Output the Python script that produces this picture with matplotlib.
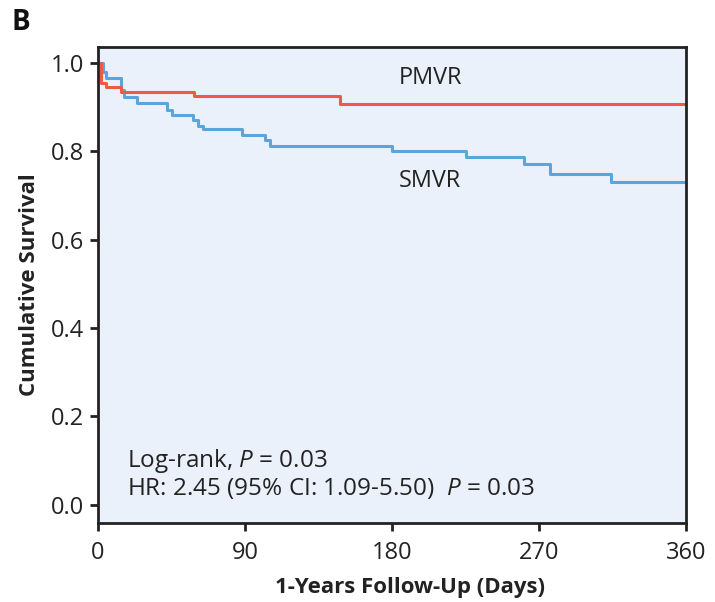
import matplotlib
matplotlib.use("Agg")
import matplotlib.pyplot as plt
from matplotlib import font_manager

# ---- data ----
pmvr_days = [0, 2, 5, 14, 59, 148, 360]
pmvr_surv = [1.0, 0.954, 0.946, 0.935, 0.925, 0.906, 0.906]
smvr_days = [0, 3, 5, 14, 16, 24, 42, 45, 58, 61, 64, 88, 102, 105, 180, 225, 261, 277, 314, 360]
smvr_surv = [1.0, 0.980, 0.965, 0.939, 0.923, 0.909, 0.894, 0.883, 0.870, 0.857, 0.850,
             0.836, 0.826, 0.812, 0.801, 0.786, 0.771, 0.748, 0.731, 0.731]
x_ticks = [0, 90, 180, 270, 360]
y_ticks = [0.0, 0.2, 0.4, 0.6, 0.8, 1.0]

available = {f.name for f in font_manager.fontManager.ttflist}
fam = None
for cand in ["Open Sans", "Noto Sans", "Roboto", "DejaVu Sans"]:
    if cand in available:
        fam = cand
        break
plt.rcParams['font.family'] = [fam, 'DejaVu Sans']
plt.rcParams['mathtext.fontset'] = 'custom'
plt.rcParams['mathtext.it'] = f'{fam}:italic'
plt.rcParams['mathtext.rm'] = fam

fig = plt.figure(figsize=(7.15, 6.02), dpi=100)
ax = fig.add_axes([98/715, 1-523/602, (686-98)/715, (523-47)/602])
ax.set_facecolor('#EAF1FA')

ax.step(smvr_days, smvr_surv, where='post', color='#5AA5DC', lw=2.2)
ax.step(pmvr_days, pmvr_surv, where='post', color='#EE5B44', lw=2.2)

ax.set_xlim(0, 360)
ax.set_ylim(-0.041, 1.036)
ax.set_xticks(x_ticks)
ax.set_yticks(y_ticks)
ax.set_yticklabels([f"{v:.1f}" for v in y_ticks])
ax.tick_params(axis='both', direction='out', length=6, width=2, labelsize=17, color='#222222', labelcolor='#222222')
ax.tick_params(axis='y', pad=4)
ax.tick_params(axis='x', pad=7)
for s in ax.spines.values():
    s.set_linewidth(2)
    s.set_color('#222222')

ax.set_xlabel('1-Years Follow-Up (Days)', fontsize=16, fontweight='bold', color='#222222')
ax.xaxis.set_label_coords((410 - 98) / 588, -0.113)
ax.set_ylabel('Cumulative Survival', fontsize=16, fontweight='bold', color='#222222', labelpad=8)

ax.text(184, 0.965, 'PMVR', fontsize=16.8, color='#222222', va='center', ha='left')
ax.text(184, 0.733, 'SMVR', fontsize=16.8, color='#222222', va='center', ha='left')
ax.text(18, 0.100, 'Log-rank, $\\it{P}$ = 0.03', fontsize=17.5, color='#222222', va='center', ha='left')
ax.text(18, 0.036, 'HR: 2.45 (95% CI: 1.09-5.50)  $\\it{P}$ = 0.03', fontsize=17.5, color='#222222', va='center', ha='left')

fig.text(12/715, 1-23/602, 'B', fontsize=20, fontweight='bold', color='#111111', va='center', ha='left')

fig.savefig('out.png', dpi=100)
